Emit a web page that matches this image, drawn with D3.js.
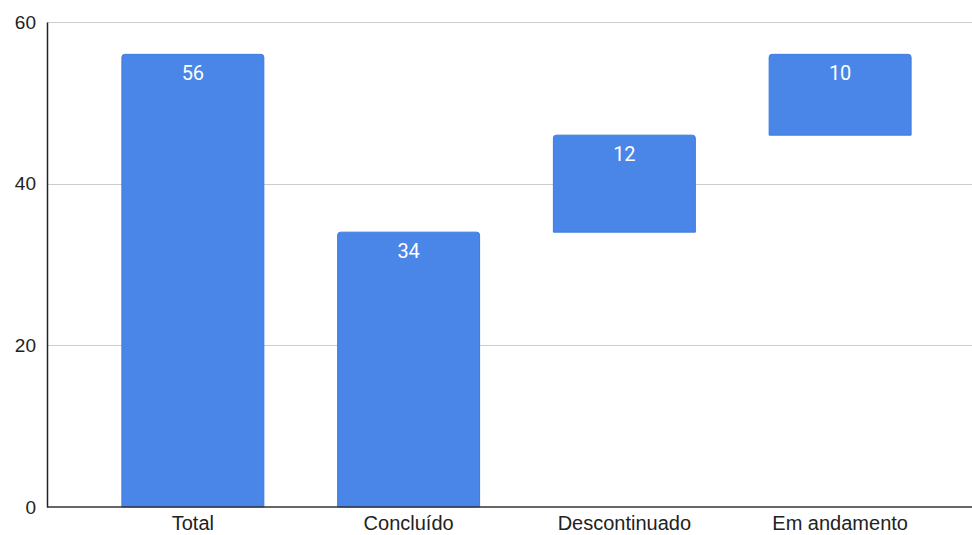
<!DOCTYPE html>
<html>
<head>
<meta charset="utf-8">
<script src="https://cdn.jsdelivr.net/npm/d3@7"></script>
<style>
  html, body { margin: 0; padding: 0; background: #fff; }
  svg { display: block; }
</style>
</head>
<body>
<svg id="chart" width="972" height="535"></svg>
<script>
const categories = ["Total", "Concluído", "Descontinuado", "Em andamento"];
const barStarts = [0, 0, 34, 46];
const barValues = [56, 34, 12, 10];
const yTicks = [0, 20, 40, 60];

const W = 972, H = 535;
const svg = d3.select("#chart");

const x = d3.scaleBand().domain(categories).range([85, 948]).paddingInner(0.342).paddingOuter(0.171);
const y = d3.scaleLinear().domain([0, 60]).range([507, 22]);

// gridlines
svg.append("g").selectAll("line").data(yTicks.filter(t => t > 0)).join("line")
  .attr("x1", 47).attr("x2", W)
  .attr("y1", d => Math.round(y(d)) + 0.5).attr("y2", d => Math.round(y(d)) + 0.5)
  .attr("stroke", "#cccccc").attr("stroke-width", 1);

// bars
const data = categories.map((c, i) => ({ c, s: barStarts[i], v: barValues[i] }));
const r = 3;
svg.append("g").selectAll("path").data(data).join("path")
  .attr("d", d => {
    const x0 = x(d.c), x1 = x0 + x.bandwidth();
    const yt = y(d.s + d.v), yb = y(d.s);
    return `M${x0},${yb}L${x0},${yt + r}Q${x0},${yt} ${x0 + r},${yt}L${x1 - r},${yt}Q${x1},${yt} ${x1},${yt + r}L${x1},${yb}Z`;
  })
  .attr("fill", "#4a86e8")
  .attr("stroke", "#3d7bdf")
  .attr("stroke-width", 1);

// value labels
svg.append("g").selectAll("text").data(data).join("text")
  .attr("x", d => x(d.c) + x.bandwidth() / 2)
  .attr("y", d => y(d.s + d.v) + 26)
  .attr("text-anchor", "middle")
  .attr("font-family", "Roboto, Arial, sans-serif")
  .attr("font-size", 20)
  .attr("fill", "#ffffff")
  .text(d => d.v);

// y axis
const yAxis = d3.axisLeft(y).tickValues(yTicks).tickSize(0).tickPadding(11).tickFormat(d3.format("d"));
const gy = svg.append("g").attr("transform", "translate(47,0)").call(yAxis);
gy.select(".domain").attr("stroke", "#222").attr("stroke-width", 1.5);
gy.selectAll("text")
  .attr("font-family", "'Liberation Sans', Arial, sans-serif")
  .attr("font-size", 19)
  .attr("fill", "#222");

// x axis
const xAxis = d3.axisBottom(x).tickSize(0).tickPadding(9);
const gx = svg.append("g").attr("transform", "translate(0,507)").call(xAxis);
gx.select(".domain").remove();
gx.append("line").attr("x1", 47).attr("x2", W).attr("y1", 0).attr("y2", 0)
  .attr("stroke", "#333").attr("stroke-width", 1.5);
gx.selectAll("text")
  .attr("font-family", "'Liberation Sans', Arial, sans-serif")
  .attr("font-size", 20)
  .attr("fill", "#222");
</script>
</body>
</html>
